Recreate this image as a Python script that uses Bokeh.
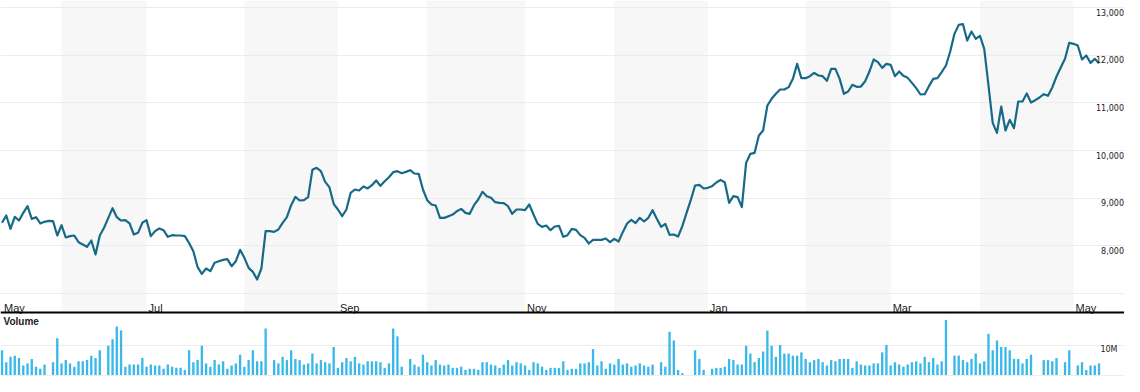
from bokeh.plotting import figure
from bokeh.models import Range1d, Grid, FixedTicker, Span
from bokeh.core.properties import value
from bokeh.embed import file_html
from bokeh.resources import INLINE

# ---- data (x = session slot index from the first session shown) ----
price = [8483, 8636, 8357, 8608, 8531, 8692, 8832, 8566, 8601, 8469,
         8504, 8525, 8518, 8217, 8434, 8175, 8203, 8217, 8077, 8028,
         7979, 8112, 7818, 8217, 8378, 8587, 8790, 8601, 8531, 8538,
         8469, 8238, 8273, 8483, 8538, 8203, 8308, 8364, 8329, 8189,
         8224, 8217, 8217, 8203, 8060, 7888, 7552, 7412, 7524, 7468,
         7643, 7678, 7706, 7720, 7573, 7678, 7916, 7748, 7538, 7454,
         7294, 7524, 8307, 8307, 8293, 8342, 8482, 8601, 8853, 9028,
         8951, 8958, 9021, 9594, 9636, 9566, 9342, 9231, 8881, 8762,
         8622, 8762, 9112, 9182, 9161, 9245, 9203, 9272, 9370, 9259,
         9356, 9440, 9545, 9566, 9524, 9552, 9587, 9517, 9510, 9182,
         8958, 8867, 8846, 8587, 8587, 8622, 8657, 8727, 8776, 8692,
         8671, 8853, 8972, 9133, 9042, 9007, 8916, 8902, 8895, 8832,
         8671, 8762, 8762, 8748, 8867, 8657, 8461, 8398, 8426, 8328,
         8405, 8420, 8189, 8224, 8357, 8336, 8224, 8168, 8049, 8126,
         8126, 8126, 8154, 8077, 8147, 8091, 8287, 8469, 8546, 8476,
         8588, 8511, 8588, 8748, 8567, 8399, 8462, 8231, 8238, 8196,
         8413, 8693, 8965, 9266, 9280, 9203, 9217, 9252, 9329, 9385,
         9329, 8902, 9042, 9021, 8812, 9740, 9930, 9951, 10315, 10420,
         10944, 11084, 11189, 11280, 11280, 11329, 11503, 11818, 11517, 11517,
         11559, 11629, 11573, 11559, 11461, 11713, 11713, 11503, 11189, 11238,
         11377, 11335, 11342, 11454, 11657, 11909, 11853, 11734, 11818, 11797,
         11559, 11657, 11566, 11524, 11419, 11308, 11175, 11182, 11350, 11503,
         11517, 11643, 11783, 12077, 12447, 12636, 12650, 12307, 12496, 12343,
         12405, 12133, 11364, 10580, 10370, 10923, 10420, 10643, 10468, 11028,
         11028, 11196, 11007, 11056, 11112, 11182, 11147, 11322, 11552, 11741,
         11923, 12259, 12238, 12203, 11909, 11993, 11839, 11923, 11832]
day = list(range(len(price)))

# volume in millions of shares, by session index (missing sessions = no bar)
vol_day = [0, 1, 2, 3, 4, 5, 6, 7, 8, 9, 10, 12, 13, 14, 15, 16, 17, 18, 19, 20,
           21, 22, 23, 25, 26, 27, 28, 29, 30, 31, 32, 33, 34, 35, 36, 37, 38, 39, 40, 41,
           42, 43, 44, 45, 46, 47, 48, 49, 50, 51, 52, 53, 54, 55, 56, 57, 58, 59, 60, 61,
           62, 64, 65, 66, 67, 68, 69, 70, 71, 72, 73, 74, 75, 76, 77, 78, 79, 80, 81, 82,
           83, 84, 85, 86, 87, 88, 89, 90, 91, 92, 93, 94, 96, 97, 98, 99, 100, 101, 102, 103,
           104, 105, 106, 107, 108, 109, 110, 111, 112, 113, 114, 115, 116, 117, 118, 119, 120, 121, 122, 123,
           124, 125, 126, 127, 128, 129, 130, 131, 132, 133, 134, 135, 136, 137, 138, 139, 140, 141, 142, 143,
           144, 145, 146, 147, 148, 149, 150, 151, 152, 153, 155, 156, 157, 158, 159, 160, 163, 164, 165, 167,
           168, 169, 170, 171, 172, 173, 174, 175, 176, 177, 178, 179, 180, 181, 182, 183, 184, 185, 186, 187,
           188, 189, 190, 191, 192, 193, 194, 195, 196, 197, 198, 199, 200, 201, 202, 203, 204, 205, 206, 207,
           208, 209, 210, 211, 212, 213, 214, 215, 216, 217, 218, 219, 220, 221, 222, 224, 225, 226, 227, 228,
           229, 230, 231, 232, 233, 234, 235, 236, 237, 238, 239, 240, 241, 242, 245, 246, 247, 248, 250, 251,
           253, 254, 255, 256, 257, 258]
vol_m = [8.3, 4.3, 6.1, 6.5, 5.7, 3.2, 3.9, 5.4, 2.8, 2.1, 3.5, 4.3, 12.3, 3.9, 5.0, 3.9, 2.8, 4.6, 4.6, 5.0,
         6.5, 5.7, 8.3, 9.8, 12.0, 16.3, 14.9, 2.8, 3.5, 3.5, 3.5, 5.7, 2.8, 3.5, 3.2, 3.2, 2.1, 3.5, 2.8, 2.4,
         2.4, 1.7, 8.3, 4.3, 5.0, 9.8, 3.9, 2.8, 5.0, 3.5, 4.6, 2.1, 3.2, 3.9, 6.8, 2.8, 5.0, 8.3, 4.6, 4.6,
         15.6, 5.0, 3.9, 6.1, 5.0, 8.3, 5.4, 5.0, 3.5, 3.9, 7.2, 3.9, 5.0, 4.3, 3.9, 9.4, 2.4, 4.3, 5.7, 4.6,
         6.1, 3.9, 3.5, 4.6, 4.6, 4.6, 4.3, 2.4, 3.9, 15.6, 13.0, 2.8, 5.4, 3.5, 2.8, 6.8, 4.3, 3.2, 5.0, 3.5,
         3.2, 3.5, 2.4, 2.4, 2.8, 1.7, 2.1, 2.1, 1.7, 4.3, 4.3, 3.5, 3.2, 2.4, 3.5, 5.0, 3.2, 4.3, 3.9, 3.2,
         1.7, 4.3, 3.9, 2.8, 1.7, 2.4, 2.4, 2.4, 4.6, 1.7, 2.1, 2.1, 3.9, 3.9, 4.3, 8.7, 3.2, 4.6, 2.1, 3.9,
         3.5, 5.4, 3.5, 3.9, 2.8, 3.2, 3.9, 3.2, 2.8, 3.5, 4.3, 2.8, 14.5, 11.6, 1.7, 0.6, 8.3, 5.4, 1.7, 2.1,
         2.4, 2.4, 2.8, 5.4, 5.0, 3.5, 3.5, 9.8, 7.2, 4.3, 5.7, 7.9, 14.9, 9.8, 6.1, 10.1, 7.2, 7.2, 6.5, 6.5,
         7.6, 5.4, 4.3, 5.0, 5.4, 4.3, 3.2, 5.0, 4.6, 5.4, 5.4, 5.4, 2.4, 4.6, 3.5, 3.2, 3.2, 3.9, 3.9, 7.6,
         10.1, 3.2, 4.3, 3.5, 2.8, 3.5, 4.3, 4.6, 3.9, 6.1, 4.3, 5.7, 3.5, 4.6, 18.5, 6.5, 6.5, 5.0, 4.3, 5.4,
         7.2, 3.9, 4.6, 13.8, 8.3, 11.6, 9.4, 9.4, 8.3, 5.4, 5.4, 3.9, 5.4, 6.8, 5.0, 5.0, 4.6, 5.7, 4.3, 8.3,
         3.2, 4.3, 1.7, 3.2, 3.2, 3.9]

month_labels = ["May", "Jul", "Sep", "Nov", "Jan", "Mar", "May"]
month_label_day = [0, 34, 79, 123, 166, 209, 252]
band_start = [14, 57, 100, 144, 189, 230]
band_end = [34, 79, 123, 166, 209, 252]

price_grid = [7000, 8000, 9000, 10000, 11000, 12000, 13000]
price_ticks = [8000, 9000, 10000, 11000, 12000, 13000]
price_tick_labels = ["8,000", "9,000", "10,000", "11,000", "12,000", "13,000"]
vol_grid = [0, 10]
vol_ticks = [10]
vol_tick_labels = ["10M"]

# ---- layout ----
W, H = 1124, 376
X0, X1 = -0.353, 263.99
Y0, Y1 = 5258.7, 13146.9
AXIS_Y = 6601           # black divider (price units)
V0, V1 = -0.5, 125.7    # volume range (millions)
LABEL_FONT = value("Liberation Sans")
TICK_FONT = value("DejaVu Sans")

p = figure(width=W, height=H, output_backend="svg", toolbar_location=None,
           x_range=Range1d(X0, X1), y_range=Range1d(Y0, Y1),
           x_axis_location=None, y_axis_location=None,
           min_border=0, outline_line_color=None, background_fill_color="white")
p.xgrid.visible = False
p.ygrid.visible = False
p.extra_y_ranges = {"vol": Range1d(V0, V1)}

# alternating month bands
p.quad(left=band_start, right=band_end, bottom=[AXIS_Y] * len(band_start),
       top=[Y1] * len(band_start), fill_color="#f7f7f7", line_color=None, level="image")

p.add_layout(Grid(dimension=1, ticker=FixedTicker(ticks=price_grid),
                  grid_line_color="#ececec", grid_line_width=1))
p.add_layout(Grid(dimension=1, ticker=FixedTicker(ticks=vol_grid), y_range_name="vol",
                  grid_line_color="#ececec", grid_line_width=1))

p.line(day, price, line_color="#176a87", line_width=2.2, line_join="round")

p.vbar(x=vol_day, top=vol_m, bottom=0, width=0.55, y_range_name="vol",
       fill_color="#3ab8e8", line_color=None)

p.add_layout(Span(location=AXIS_Y, dimension="width", line_color="#000000", line_width=2))

# right-side price labels
p.text(x=[X1] * len(price_ticks), y=price_ticks, text=price_tick_labels,
       text_align="right", text_baseline="top", x_offset=-0.5, y_offset=1,
       text_font=TICK_FONT, text_font_size="8px", text_color="#222222")
# month labels
p.text(x=month_label_day, y=[AXIS_Y] * len(month_labels), text=month_labels,
       text_align="left", text_baseline="alphabetic", x_offset=2, y_offset=-5,
       text_font=LABEL_FONT, text_font_size="11px", text_color="#222222")
# volume title and tick label
p.text(x=[X0], y=[18.0], text=["Volume"], y_range_name="vol",
       text_align="left", text_baseline="middle", x_offset=3,
       text_font=LABEL_FONT, text_font_size="10px", text_font_style="bold", text_color="#222222")
p.text(x=[X1] * len(vol_ticks), y=vol_ticks, text=vol_tick_labels, y_range_name="vol",
       text_align="right", text_baseline="top", x_offset=-7, y_offset=0,
       text_font=TICK_FONT, text_font_size="8px", text_color="#222222")

open("out.html", "w").write(file_html(p, INLINE))
